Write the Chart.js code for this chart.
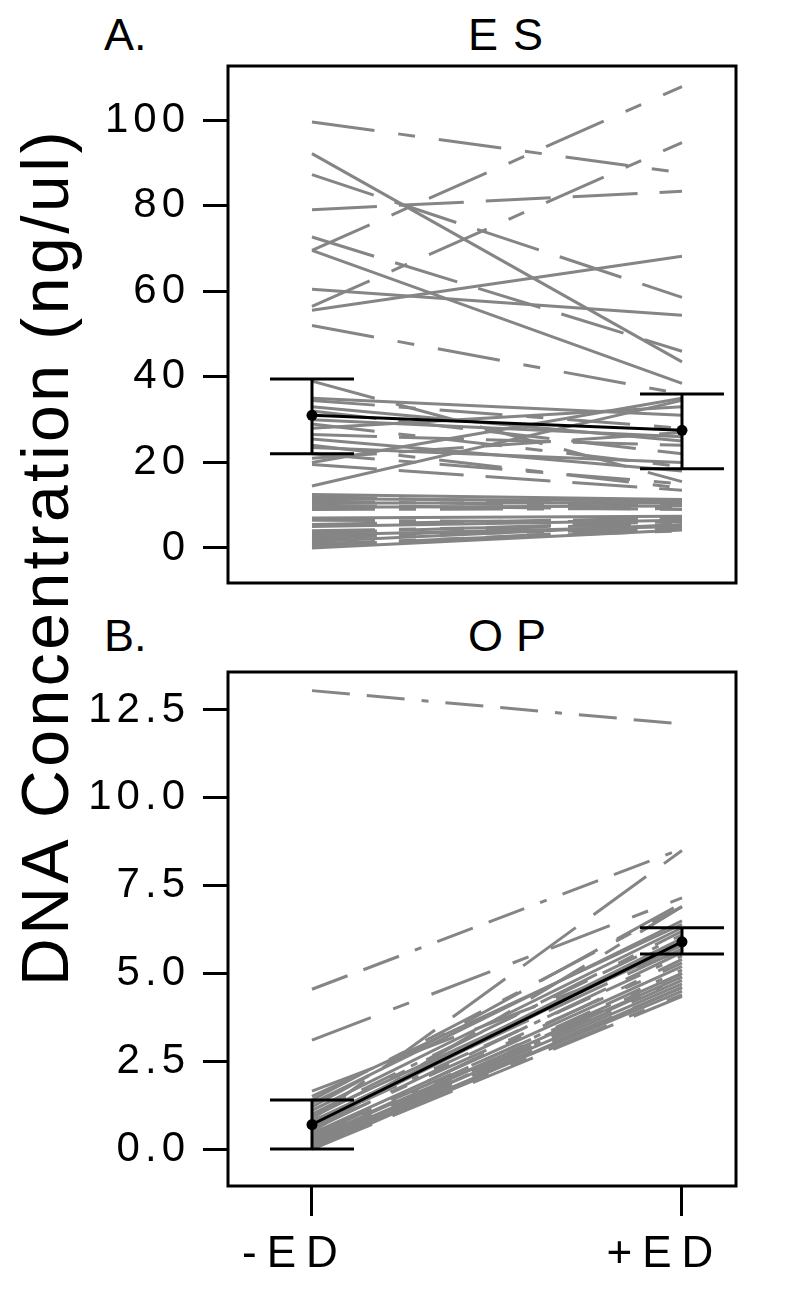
<!DOCTYPE html>
<html>
<head>
<meta charset="utf-8">
<script src="https://cdn.jsdelivr.net/npm/chart.js@4.4.1/dist/chart.umd.min.js"></script>
<style>
  body { margin: 0; background: #fff; width: 789px; height: 1291px; position: relative; overflow: hidden;
         font-family: "Liberation Sans", Arial, sans-serif; }
  canvas { position: absolute; left: 0; }
  .lbl { position: absolute; font-size: 45px; line-height: 45px; color: #000; white-space: nowrap; }
  #ytitle { position: absolute; left: 45px; top: 557px; font-size: 66px; line-height: 66px; letter-spacing: 3.5px;
            white-space: nowrap; transform: translate(-50%, -50%) rotate(-90deg); }
</style>
</head>
<body>
<div class="lbl" style="left:104px; top:12px">A.</div>
<div class="lbl" style="left:468px; top:12px; letter-spacing:15px">ES</div>
<div class="lbl" style="left:104px; top:613px">B.</div>
<div class="lbl" style="left:468px; top:613px; letter-spacing:13px">OP</div>
<div id="ytitle">DNA Concentration (ng/ul)</div>
<canvas id="es" width="789" height="600" style="top:0"></canvas>
<canvas id="op" width="789" height="691" style="top:600px"></canvas>
<script>
const groups = ['-ED', '+ED'];

// ES panel: one line per sample, value before (-ED) and after (+ED)
const esPre  = [99.6, 69.6, 56.5, 92.2, 87.3, 79.1, 72.7, 69.6, 60.5, 55.6, 52.0,
                39.0, 35.0, 34.5, 33.0, 32.0, 30.0, 29.0, 28.0, 26.5, 25.5, 24.0, 23.5, 21.0, 20.0, 19.5, 14.5, 22.0,
                12.5, 12.0, 11.5, 11.0, 10.5, 10.0, 9.5, 9.0,
                7.0, 6.5, 5.5, 5.0, 4.0, 3.5, 3.0, 2.5, 2.0, 1.5, 1.0, 0.5, 0.0];
const esPost = [87.7, 107.9, 94.8, 43.5, 58.6, 83.4, 46.0, 38.5, 54.4, 68.2, 36.0,
                15.5, 31.0, 28.0, 25.0, 22.0, 26.0, 19.0, 33.0, 24.0, 18.0, 14.0, 20.0, 27.0, 35.0, 13.5, 34.5, 15.0,
                11.3, 10.0, 11.0, 9.5, 10.5, 9.0, 9.8, 9.2,
                7.4, 6.0, 7.0, 6.5, 5.5, 6.2, 5.0, 4.5, 6.8, 5.5, 4.0, 4.8, 4.2];
const esStyle = ['dashdot', 'dashdot', 'dashdot', 'solid', 'long', 'long', 'long', 'solid', 'solid', 'solid', 'dashdot',
                 'long', 'solid', 'dashdot', 'solid', 'long', 'solid', 'dashdot', 'solid', 'long', 'solid', 'dashdot', 'solid', 'long', 'solid', 'long', 'solid', 'dashdot',
                 'solid', 'long', 'solid', 'dashdot', 'solid', 'long', 'solid', 'dashdot',
                 'solid', 'dashdot', 'long', 'solid', 'dashdot', 'long', 'solid', 'dashdot', 'long', 'solid', 'dashdot', 'long', 'solid'];
const esMean = [31.0, 27.5];
const esLow  = [22.0, 18.5];
const esHigh = [39.5, 36.0];
const esTicks = [0, 20, 40, 60, 80, 100];

// OP panel
const opPre  = [13.05, 4.55, 3.1, 0.85, 1.65, 1.4, 1.3, 1.2, 1.1, 1.0, 0.95, 0.9, 0.8, 0.75, 0.7, 0.65, 0.6,
                0.55, 0.5, 0.45, 0.4, 0.35, 0.3, 0.3, 0.25, 0.2, 0.2, 0.15, 0.1, 0.1, 0.05, 0.0, 0.0, 1.5];
const opPost = [12.1, 8.55, 7.15, 8.5, 5.65, 6.9, 6.5, 7.0, 6.3, 6.1, 5.8, 6.2, 5.7, 6.0, 5.5, 5.9, 5.3,
                5.6, 6.9, 5.2, 5.0, 5.4, 4.9, 5.1, 4.8, 4.7, 5.0, 4.6, 4.5, 4.9, 4.4, 4.35, 4.6, 6.4];
const opStyle = ['twodash', 'twodash', 'dashdot', 'long', 'long', 'dashdot', 'solid', 'long', 'solid', 'twodash', 'solid', 'dashdot', 'long', 'solid', 'twodash', 'solid', 'dashdot',
                 'long', 'dashdot', 'solid', 'long', 'dashdot', 'solid', 'twodash', 'long', 'solid', 'dashdot', 'long', 'solid', 'twodash', 'dashdot', 'long', 'solid', 'solid'];
const opMean = [0.7, 5.9];
const opLow  = [0.0, 5.55];
const opHigh = [1.4, 6.3];
const opTicks = [0, 2.5, 5, 7.5, 10, 12.5];

const dashes = {
    solid: [],
    long: [65, 22],
    dashdot: [63, 24, 17, 24],
    twodash: [38, 17, 38, 17, 7, 17]
};
const gray = '#858585';
const font = '"Liberation Sans", Arial, sans-serif';

const frame = {
    id: 'frame',
    beforeLayout(chart) { chart.ctx.letterSpacing = '5px'; },
    beforeDraw(chart) {
        chart.ctx.letterSpacing = '5px';
        // wider spacing for the group labels under panel B
        const x = chart.scales.x;
        if (x && !x._spaced) {
            const orig = x.drawLabels;
            x.drawLabels = function (area) {
                this.ctx.letterSpacing = '10px';
                orig.call(this, area);
                this.ctx.letterSpacing = '5px';
            };
            x._spaced = true;
        }
    },
    afterDraw(chart) {
        const a = chart.chartArea, ctx = chart.ctx;
        ctx.save();
        ctx.lineWidth = 3;
        ctx.strokeStyle = '#000';
        ctx.strokeRect(a.left, a.top, a.right - a.left, a.bottom - a.top);
        ctx.restore();
    }
};

function makePanel(id, pre, post, style, mean, low, high, yMin, yMax, yTicks, fmt, showX, padTop, padBottom) {
    const cap = 0.1135;
    const datasets = [];
    datasets.push({
        data: mean.map((v, i) => ({x: i, y: v})),
        borderColor: '#000', borderWidth: 3, pointRadius: 5.5,
        pointBackgroundColor: '#000', pointBorderWidth: 0, order: 0
    });
    mean.forEach((v, i) => {
        [[{x: i, y: low[i]}, {x: i, y: high[i]}],
         [{x: i - cap, y: low[i]}, {x: i + cap, y: low[i]}],
         [{x: i - cap, y: high[i]}, {x: i + cap, y: high[i]}]].forEach(seg => {
            datasets.push({data: seg, borderColor: '#000', borderWidth: 3, pointRadius: 0, order: 0});
        });
    });
    pre.forEach((v, i) => {
        datasets.push({
            data: [{x: 0, y: v}, {x: 1, y: post[i]}],
            borderColor: gray, borderWidth: 3, pointRadius: 0,
            borderDash: dashes[style[i]], borderCapStyle: 'butt', order: 1
        });
    });

    return new Chart(document.getElementById(id), {
        type: 'line',
        data: {datasets: datasets},
        options: {
            responsive: false,
            animation: false,
            devicePixelRatio: 1,
            layout: {autoPadding: false, padding: {left: 0, right: 53, top: padTop, bottom: padBottom}},
            plugins: {legend: {display: false}, tooltip: {enabled: false}},
            scales: {
                x: {
                    type: 'linear', min: -0.227, max: 1.146,
                    display: showX,
                    afterBuildTicks: s => { s.ticks = groups.map((g, i) => ({value: i})); },
                    afterFit: s => {
                        s.height = showX ? 105 : 0;
                        s.paddingLeft = 0; s.paddingRight = 0;
                    },
                    border: {display: false},
                    grid: {drawOnChartArea: false, tickLength: 30, tickWidth: 3, tickColor: '#000'},
                    ticks: {
                        callback: (v, i) => groups[i],
                        color: '#000', padding: 12, maxRotation: 0, labelOffset: -17,
                        font: {family: font, size: 44}
                    }
                },
                y: {
                    min: yMin, max: yMax,
                    afterBuildTicks: s => { s.ticks = yTicks.map(v => ({value: v})); },
                    afterFit: s => {
                        s.width = 228;
                        s.paddingTop = 0; s.paddingBottom = 0;
                    },
                    border: {display: false},
                    grid: {drawOnChartArea: false, tickLength: 25, tickWidth: 3, tickColor: '#000'},
                    ticks: {
                        callback: fmt,
                        color: '#000', padding: 13,
                        font: {family: font, size: 42}
                    }
                }
            }
        },
        plugins: [frame]
    });
}

makePanel('es', esPre, esPost, esStyle, esMean, esLow, esHigh, -8.2, 112.7, esTicks, v => String(v), false, 66, 17);
makePanel('op', opPre, opPost, opStyle, opMean, opLow, opHigh, -1.05, 13.58, opTicks, v => v.toFixed(1), true, 72, 0);
</script>
</body>
</html>
